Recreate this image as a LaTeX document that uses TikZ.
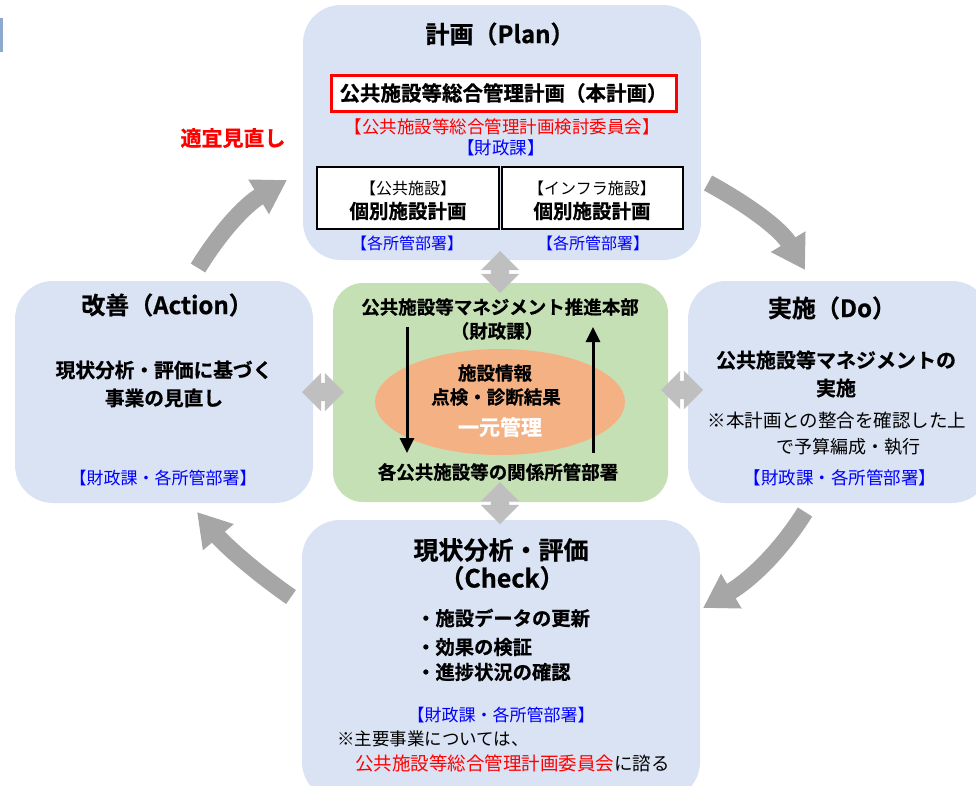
\documentclass[tikz,border=0pt]{standalone}
\usepackage{fontspec}
\setmainfont{Noto Sans CJK JP}[BoldFont={Noto Sans CJK JP Bold},BoldFeatures={FakeBold=0.7}]
\usetikzlibrary{arrows.meta,shapes.geometric,shapes.arrows}
\definecolor{panelblue}{HTML}{DAE3F3}
\definecolor{panelgreen}{HTML}{C5E0B4}
\definecolor{ellorange}{HTML}{F4B183}
\definecolor{cyclegray}{HTML}{A6A6A6}
\definecolor{dblgray}{HTML}{BFBFBF}
\definecolor{txtblue}{HTML}{0000FF}
\definecolor{txtred}{HTML}{FF0000}
\definecolor{barblue}{HTML}{8EA9D0}
\newcommand\fsz[1]{\fontsize{#1pt}{#1pt}\selectfont}
\begin{document}
\begin{tikzpicture}[x=1pt,y=-1pt,
  panel/.style={fill=panelblue, draw=none, rounded corners=38pt, inner sep=0pt},
  greenpanel/.style={fill=panelgreen, draw=none, rounded corners=30pt, inner sep=0pt},
  t/.style={inner sep=0pt, font=\fsz{#1}},
  tb/.style={inner sep=0pt, font=\fsz{#1}\bfseries},
  ttl/.style={inner sep=0pt, font=\fsz{24}\bfseries},
  blue/.style={text=txtblue},
  red/.style={text=txtred},
  redbox/.style={draw=txtred, line width=3pt, fill=white, inner sep=0pt},
  blkbox/.style={draw=black, line width=2.8pt, fill=white, inner sep=0pt},
  dbl/.style={double arrow, fill=dblgray, draw=none, inner xsep=0pt, inner ysep=9pt,
              double arrow head extend=10pt, minimum height=42pt},
  cycle arrow/.style={draw=cyclegray, line width=17pt,
              -{Triangle[length=33pt,width=38pt]}},
  flow arrow/.style={draw=black, line width=3pt, -{Triangle[length=15pt,width=14pt]}}
]
\useasboundingbox (0,0) rectangle (976,785);
\clip (0,0) rectangle (976,785);

% small bar at top-left edge
\fill[barblue] (0,18) rectangle (3,52);

% panels
\node[panel, minimum width=398pt, minimum height=255pt] (plan) at (502,132.5) {};
\node[panel, minimum width=298pt, minimum height=222pt] (action) at (164,392) {};
\node[panel, minimum width=302pt, minimum height=222pt] (do) at (839,392) {};
\node[panel, minimum width=398pt, minimum height=280pt] (check) at (501,660) {};
\node[greenpanel, minimum width=335pt, minimum height=219pt] (mgmt) at (500.5,392.5) {};

% Plan contents
\node[ttl] (plantitle) at (500,34) {計画（Plan）};
\node[redbox, minimum width=345pt, minimum height=36pt, font=\fsz{20.5}\bfseries] (honplan) at (503.5,93) {公共施設等総合管理計画（本計画）};
\node[t=17.5, red] (iinkai) at (502,127) {【公共施設等総合管理計画検討委員会】};
\node[t=17.5, blue] (zaisei) at (501,148) {【財政課】};
\node[blkbox, minimum width=182pt, minimum height=62pt] (boxA) at (408,198) {};
\node[blkbox, minimum width=181pt, minimum height=62pt] (boxB) at (592.5,198) {};
\node[t=16] (boxAhead) at (408,188) {【公共施設】};
\node[tb=19.5] (boxAmain) at (408,211) {個別施設計画};
\node[t=16] (boxBhead) at (592,188) {【インフラ施設】};
\node[tb=19.5] (boxBmain) at (592,211) {個別施設計画};
\node[t=16, blue] (deptA) at (407,243) {【各所管部署】};
\node[t=16, blue] (deptB) at (593,243) {【各所管部署】};

% Action contents
\node[ttl] (acttitle) at (167,305) {改善（Action）};
\node[tb=19.7] (act1) at (164,370) {現状分析・評価に基づく};
\node[tb=19.7] (act2) at (164,398) {事業の見直し};
\node[t=17, blue] (actdept) at (163,478) {【財政課・各所管部署】};

% Do contents
\node[ttl] (dotitle) at (832,308) {実施（Do）};
\node[tb=20] (do1) at (836,360) {公共施設等マネジメントの};
\node[tb=20] (do2) at (836,388) {実施};
\node[t=18.5] (do3) at (837,420) {※本計画との整合を確認した上};
\node[t=18] (do4) at (848,447) {で予算編成・執行};
\node[t=17.5, blue] (dodept) at (840,478) {【財政課・各所管部署】};

% Check contents
\node[ttl, font=\fsz{25}\bfseries] (chktitle1) at (501,550) {現状分析・評価};
\node[ttl, font=\fsz{25}\bfseries] (chktitle2) at (502,578) {（Check）};
\node[tb=19.3, anchor=west] (chk1) at (416,618) {・施設データの更新};
\node[tb=19.3, anchor=west] (chk2) at (416,647) {・効果の検証};
\node[tb=19.3, anchor=west] (chk3) at (416,672) {・進捗状況の確認};
\node[t=17, blue] (chkdept) at (501,715) {【財政課・各所管部署】};
\node[t=17.5, anchor=west] (chknote1) at (337,739) {※主要事業については、};
\node[t=18.5, anchor=west] (chknote2) at (355,763) {\textcolor{txtred}{公共施設等総合管理計画委員会}に諮る};

% review label
\node[tb=21, red] (review) at (233,138) {適宜見直し};

% management centre
\node[tb=18.5] (honbu) at (500,307) {公共施設等マネジメント推進本部};
\node[tb=18.5] (honbu2) at (497,331) {（財政課）};
\node[ellipse, fill=ellorange, draw=none, minimum width=250pt, minimum height=106pt] (info) at (500,402) {};
\node[tb=18.5] (info1) at (495,373) {施設情報};
\node[tb=18.5] (info2) at (496,397) {点検・診断結果};
\node[tb=21, text=white] (info3) at (500,427) {一元管理};
\node[tb=18.5] (kankei) at (498,472) {各公共施設等の関係所管部署};

\coordinate (downA) at (407,327);
\coordinate (downB) at (407,453);
\coordinate (upA) at (593,453);
\coordinate (upB) at (593,327);
\draw[flow arrow] (downA) -- (downB);
\draw[flow arrow] (upA) -- (upB);

% double arrows
\node[dbl, rotate=90] (dTop) at (500,272) {};
\node[dbl, rotate=90] (dBottom) at (500,503) {};
\node[dbl] (dLeft) at (323,392) {};
\node[dbl] (dRight) at (682,390) {};

% cycle arrows
\coordinate (a1s) at (198,268);
\coordinate (a1e) at (287,180);
\coordinate (a2s) at (708,183);
\coordinate (a2e) at (805,270);
\coordinate (a3s) at (805,512);
\coordinate (a3e) at (703,608);
\coordinate (a4s) at (291,597);
\coordinate (a4e) at (197,512);
\draw[cycle arrow] (a1s) .. controls (220,232) and (245,205) .. (a1e);
\draw[cycle arrow] (a2s) .. controls (745,203) and (780,228) .. (a2e);
\draw[cycle arrow] (a3s) .. controls (780,552) and (750,580) .. (a3e);
\draw[cycle arrow] (a4s) .. controls (255,572) and (225,545) .. (a4e);
\end{tikzpicture}
\end{document}
